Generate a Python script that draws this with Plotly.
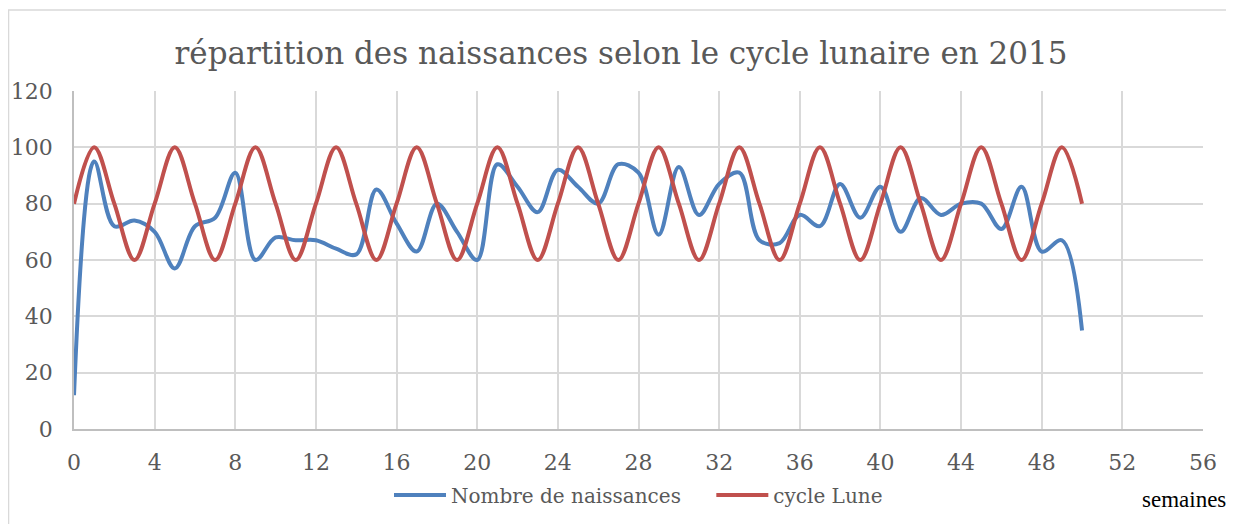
import plotly.graph_objects as go

semaines = list(range(0, 51))
naissances = [12, 95, 72, 74, 70, 57, 72, 75, 91, 60,
              68, 67, 67, 64, 62, 85, 73, 63, 80, 70,
              60, 94, 86, 77, 92, 86, 80, 94, 91, 69,
              93, 76, 87, 91, 67, 66, 76, 72, 87, 75,
              86, 70, 82, 76, 80, 80, 71, 86, 63, 67,
              35]
cycle_lune = [80, 100, 80, 60] * 12 + [80, 100, 80]

x_ticks = list(range(0, 57, 4))
y_ticks = list(range(0, 121, 20))

BLUE = "#4F81BD"
RED = "#C0504D"
FONT = "DejaVu Serif"
GREY = "#595959"

fig = go.Figure()
fig.add_trace(go.Scatter(x=semaines, y=naissances, mode="lines",
                         name="Nombre de naissances\u00a0\u00a0\u00a0\u00a0",
                         line=dict(color=BLUE, width=4, shape="spline", smoothing=1.0)))
fig.add_trace(go.Scatter(x=semaines, y=cycle_lune, mode="lines", name="cycle Lune",
                         line=dict(color=RED, width=4, shape="spline", smoothing=1.0)))

fig.update_layout(
    width=1226, height=516,
    margin=dict(l=66, r=31, t=83, b=95, autoexpand=False),
    paper_bgcolor="white", plot_bgcolor="white",
    font=dict(family=FONT, color=GREY, size=20),
    title=dict(text="répartition des naissances selon le cycle lunaire en 2015",
               x=0.5, xanchor="center", y=0.912, yanchor="middle",
               font=dict(family=FONT, size=31, color=GREY)),
    legend=dict(orientation="h", x=0.5, xanchor="center", y=-0.195, yanchor="middle",
                font=dict(family=FONT, size=20, color=GREY), itemwidth=52),
    showlegend=True,
)
fig.update_xaxes(range=[0, 56], tickvals=x_ticks, showgrid=True, gridcolor="#D9D9D9", gridwidth=1.5,
                 zeroline=False, showline=True, linecolor="#BFBFBF", linewidth=1.5,
                 ticks="outside", ticklen=13, tickcolor="rgba(0,0,0,0)",
                 tickfont=dict(family=FONT, size=22, color=GREY))
fig.update_yaxes(range=[0, 120], tickvals=y_ticks, showgrid=True, gridcolor="#D9D9D9", gridwidth=1.5,
                 zeroline=False, showline=True, linecolor="#BFBFBF", linewidth=1.5,
                 ticks="outside", ticklen=15, tickcolor="rgba(0,0,0,0)",
                 tickfont=dict(family=FONT, size=22, color=GREY))
fig.add_annotation(text="semaines", xref="paper", yref="paper", x=0.983, y=-0.21,
                   xanchor="center", yanchor="middle", showarrow=False,
                   font=dict(family="Liberation Serif", size=23, color="black"))
fig.add_shape(type="rect", xref="paper", yref="paper",
              x0=-0.058, x1=1.0257, y0=-0.3, y1=1.2396,
              line=dict(color="#D9D9D9", width=1.5), layer="below")

fig.write_html("out.html")
